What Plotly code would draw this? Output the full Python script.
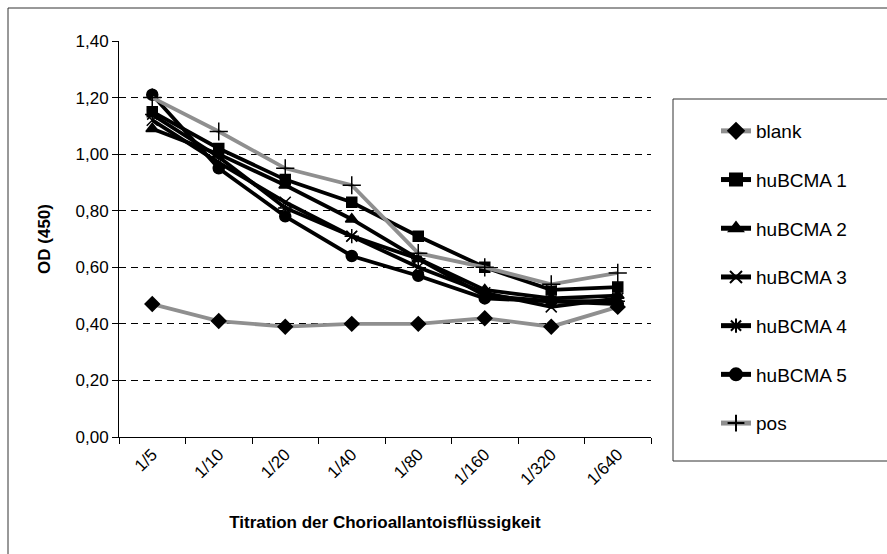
import plotly.graph_objects as go

# Dilution steps of the chorioallantoic fluid
dilutions = ["1/5", "1/10", "1/20", "1/40", "1/80", "1/160", "1/320", "1/640"]

# OD (450) readings per sample
blank = [0.47, 0.41, 0.39, 0.40, 0.40, 0.42, 0.39, 0.46]
hubcma_1 = [1.15, 1.02, 0.91, 0.83, 0.71, 0.60, 0.52, 0.53]
hubcma_2 = [1.09, 1.00, 0.89, 0.77, 0.63, 0.52, 0.49, 0.50]
hubcma_3 = [1.12, 0.97, 0.83, 0.71, 0.60, 0.51, 0.46, 0.49]
hubcma_4 = [1.14, 0.99, 0.81, 0.71, 0.63, 0.50, 0.48, 0.48]
hubcma_5 = [1.21, 0.95, 0.78, 0.64, 0.57, 0.49, 0.48, 0.47]
pos = [1.20, 1.08, 0.95, 0.89, 0.65, 0.60, 0.54, 0.58]

y_ticks = [0.0, 0.2, 0.4, 0.6, 0.8, 1.0, 1.2, 1.4]

FONT = "Arial, 'Liberation Sans', sans-serif"
GREY = "#8f8f8f"

series = [
    ("blank", blank, GREY, "diamond", 11),
    ("huBCMA 1", hubcma_1, "black", "square", 10),
    ("huBCMA 2", hubcma_2, "black", "triangle-up", 11),
    ("huBCMA 3", hubcma_3, "black", "x-thin-open", 11),
    ("huBCMA 4", hubcma_4, "black", "asterisk-open", 12),
    ("huBCMA 5", hubcma_5, "black", "circle", 11),
    ("pos", pos, GREY, "cross-thin-open", 13),
]

fig = go.Figure()
for name, vals, color, symbol, size in series:
    fig.add_trace(go.Scatter(
        x=dilutions, y=vals, name=name, mode="lines+markers",
        legendgroup=name,
        line=dict(color=color, width=3.8),
        marker=dict(symbol=symbol, size=size, color="black",
                    line=dict(color="black", width=1.5)),
    ))

W, H = 887, 554
L, R, T, B = 119, 236, 41, 117
pw, ph = W - L - R, H - T - B


def px_x(p):
    return (p - L) / pw


def px_y(p):
    return (H - B - p) / ph


shapes = [
    # outer chart frame
    dict(type="rect", xref="paper", yref="paper",
         x0=px_x(8), x1=px_x(900), y0=px_y(570), y1=px_y(8),
         line=dict(color="#333333", width=1), fillcolor="rgba(0,0,0,0)", layer="below"),
    # legend frame
    dict(type="rect", xref="paper", yref="paper",
         x0=px_x(673), x1=px_x(900), y0=px_y(461), y1=px_y(99),
         line=dict(color="#333333", width=1), fillcolor="white", layer="below"),
]

fig.update_layout(
    width=W, height=H,
    margin=dict(l=L, r=R, t=T, b=B, autoexpand=False),
    paper_bgcolor="white", plot_bgcolor="white",
    separators=",.",
    font=dict(family=FONT, size=17, color="black"),
    shapes=shapes,
    showlegend=True,
    legend=dict(
        x=px_x(716), y=px_y(112), xanchor="left", yanchor="top",
        bgcolor="rgba(0,0,0,0)", borderwidth=0,
        font=dict(family=FONT, size=19, color="black"),
        traceorder="grouped", tracegroupgap=21,
        itemsizing="constant",
    ),
    xaxis=dict(
        type="category", categoryorder="array", categoryarray=dilutions,
        tickson="boundaries", ticks="outside", ticklen=6, tickcolor="black",
        showline=True, linecolor="black", linewidth=1,
        showgrid=False, tickangle=-45,
        tickfont=dict(family=FONT, size=17),
        title=dict(text="<b>Titration der Chorioallantoisflüssigkeit</b>",
                   font=dict(family=FONT, size=17), standoff=28),
        range=[-0.5, 7.5],
    ),
    yaxis=dict(
        range=[0, 1.4], tickvals=y_ticks, tickformat=".2f",
        ticks="outside", ticklen=6, tickcolor="black",
        showline=True, linecolor="black", linewidth=1,
        showgrid=True, gridcolor="black", gridwidth=1, griddash="7px,5px",
        zeroline=False,
        tickfont=dict(family=FONT, size=17),
        title=dict(text="<b>OD (450)</b>", font=dict(family=FONT, size=17), standoff=20),
    ),
)

fig.write_html("out.html")
